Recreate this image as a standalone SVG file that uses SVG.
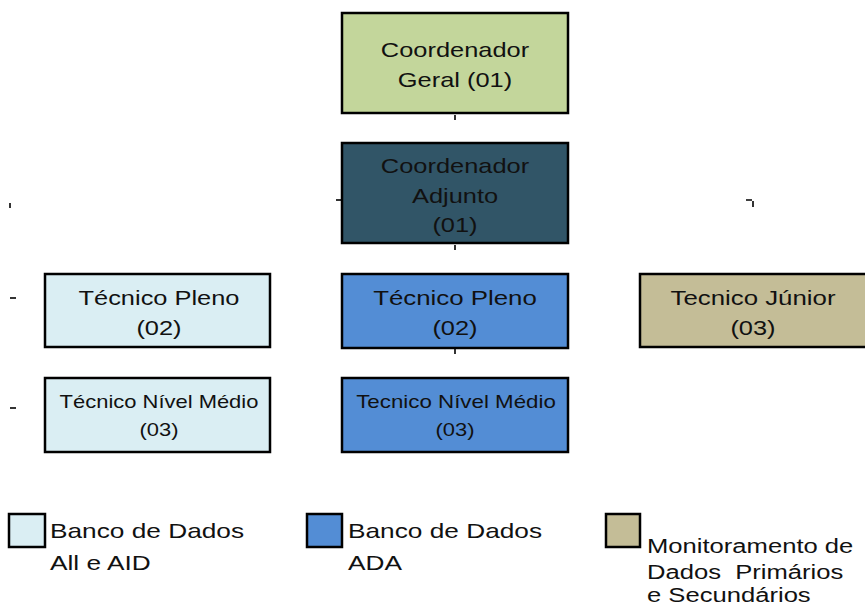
<svg xmlns="http://www.w3.org/2000/svg" width="865" height="605" viewBox="0 0 865 605">
<style>
.box{stroke:#000;stroke-width:2.5}
.t{font-family:"Liberation Sans",Arial,sans-serif;font-size:21px;fill:#111;text-anchor:middle}
.s{font-size:18px}
.l{font-family:"Liberation Sans",Arial,sans-serif;font-size:21px;fill:#111}
.tick{stroke:#000;stroke-width:1.6;fill:none}
</style>
<rect width="865" height="605" fill="#fff"/>
<g id="connectors">
<path class="tick" d="M455 115V120"/>
<path class="tick" d="M336 200H341"/>
<path class="tick" d="M455 245V250"/>
<path class="tick" d="M10 203V208"/>
<path class="tick" d="M746 200H752M753 201V207"/>
<path class="tick" d="M10 298H16"/>
<path class="tick" d="M10 408H16"/>
<path class="tick" d="M455 349V354"/>
</g>
<g id="coord-geral">
<rect class="box" x="342" y="13" width="226" height="100" fill="#C3D69B"/>
<text class="t" transform="translate(455 57) scale(1.21 1)">Coordenador</text>
<text class="t" transform="translate(455 87) scale(1.21 1)">Geral (01)</text>
</g>
<g id="coord-adjunto">
<rect class="box" x="342" y="143" width="226" height="100" fill="#315567"/>
<text class="t" transform="translate(455 173) scale(1.21 1)">Coordenador</text>
<text class="t" transform="translate(455 203) scale(1.21 1)">Adjunto</text>
<text class="t" transform="translate(455 232) scale(1.21 1)">(01)</text>
</g>
<g id="tec-pleno-1">
<rect class="box" x="45" y="274" width="225" height="73" fill="#DAEEF3"/>
<text class="t" transform="translate(159 305) scale(1.21 1)">Técnico Pleno</text>
<text class="t" transform="translate(159 335) scale(1.21 1)">(02)</text>
</g>
<g id="tec-medio-1">
<rect class="box" x="45" y="378" width="225" height="74" fill="#DAEEF3"/>
<text class="t s" transform="translate(159 408) scale(1.22 1)">Técnico Nível Médio</text>
<text class="t s" transform="translate(159 436) scale(1.22 1)">(03)</text>
</g>
<g id="tec-pleno-2">
<rect class="box" x="342" y="274" width="226" height="74" fill="#538DD5"/>
<text class="t" transform="translate(455 305) scale(1.23 1)">Técnico Pleno</text>
<text class="t" transform="translate(455 335) scale(1.21 1)">(02)</text>
</g>
<g id="tec-medio-2">
<rect class="box" x="342" y="378" width="226" height="74" fill="#538DD5"/>
<text class="t s" transform="translate(456 408) scale(1.24 1)">Tecnico Nível Médio</text>
<text class="t s" transform="translate(455 436) scale(1.22 1)">(03)</text>
</g>
<g id="tec-junior">
<rect class="box" x="640" y="274" width="227" height="73" fill="#C4BD97"/>
<text class="t" transform="translate(753 305) scale(1.23 1)">Tecnico Júnior</text>
<text class="t" transform="translate(753 335) scale(1.21 1)">(03)</text>
</g>
<g id="legend-1">
<rect class="box" x="9" y="514" width="36" height="33" fill="#DAEEF3"/>
<text class="l" transform="translate(50 538) scale(1.25 1)">Banco de Dados</text>
<text class="l" transform="translate(50 570) scale(1.25 1)">All e AID</text>
</g>
<g id="legend-2">
<rect class="box" x="307" y="514" width="35" height="33" fill="#538DD5"/>
<text class="l" transform="translate(348 538) scale(1.25 1)">Banco de Dados</text>
<text class="l" transform="translate(348 570) scale(1.25 1)">ADA</text>
</g>
<g id="legend-3">
<rect class="box" x="606" y="514" width="34" height="33" fill="#C4BD97"/>
<text class="l" transform="translate(647 553) scale(1.22 1)">Monitoramento de</text>
<text class="l" transform="translate(647 579) scale(1.22 1)" xml:space="preserve">Dados  Primários</text>
<text class="l" transform="translate(647 602) scale(1.22 1)">e Secundários</text>
</g>
</svg>
